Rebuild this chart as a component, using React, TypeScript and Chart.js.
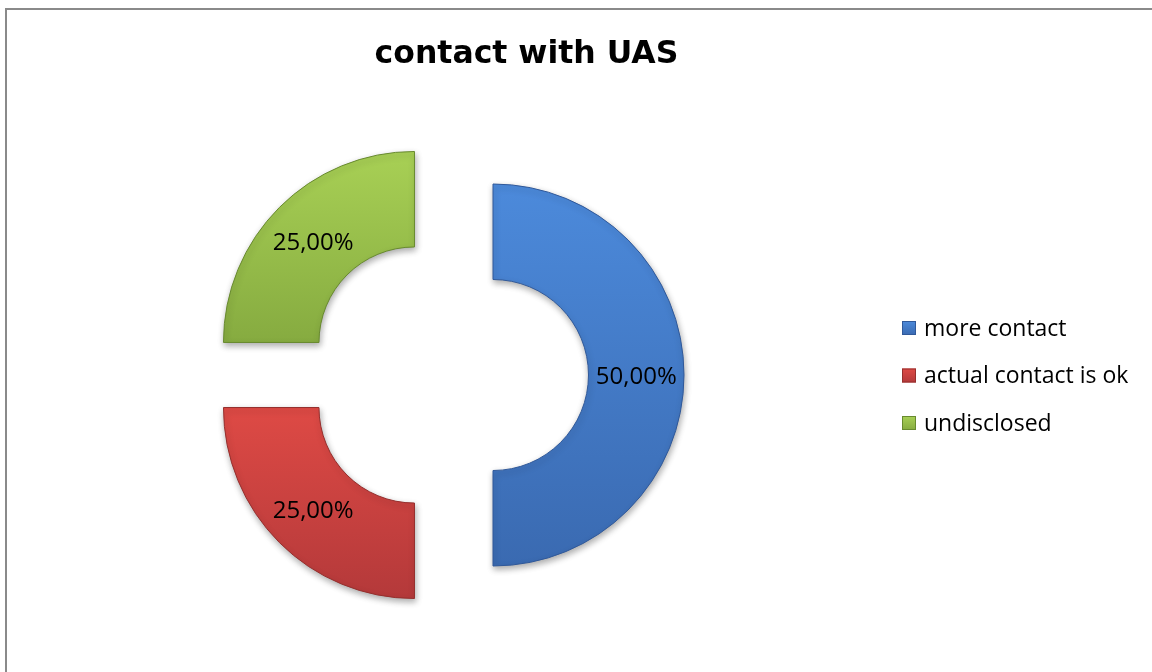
import React, { useEffect, useRef } from 'react';
import { Chart, registerables } from 'chart.js';

Chart.register(...registerables);

const titleText = 'contact with UAS';
const categories = ['more contact', 'actual contact is ok', 'undisclosed'];
const values = [50, 25, 25];
const topColors = ['#4C8ADB', '#DE4A45', '#A8D055'];
const bottomColors = ['#3A6AB1', '#B4393A', '#86AB40'];
const edgeColors = ['#30599A', '#952F2D', '#688A2F'];

const EXPLODE = 46;
const OUTER = 191;
const LABEL_FONT = '24px "Open Sans"';
const LEGEND_FONT = '23px "Open Sans"';

function sliceAngles(i: number): [number, number] {
  const total = values.reduce((a, b) => a + b, 0);
  let before = 0;
  for (let k = 0; k < i; k++) before += values[k];
  const a0 = -Math.PI / 2 + (2 * Math.PI * before) / total;
  const a1 = a0 + (2 * Math.PI * values[i]) / total;
  return [a0, a1];
}

function sliceExtent(i: number, cx: number, cy: number): [number, number] {
  const [a0, a1] = sliceAngles(i);
  const mid = (a0 + a1) / 2;
  const sy = cy + Math.sin(mid) * EXPLODE;
  let ymin = Infinity;
  let ymax = -Infinity;
  for (let k = 0; k <= 48; k++) {
    const a = a0 + ((a1 - a0) * k) / 48;
    for (const r of [OUTER, OUTER * 0.5]) {
      const y = sy + Math.sin(a) * r;
      ymin = Math.min(ymin, y);
      ymax = Math.max(ymax, y);
    }
  }
  return [ymin, ymax];
}

const explodePlugin = {
  id: 'explode',
  afterDatasetsUpdate(chart: any) {
    chart.getDatasetMeta(0).data.forEach((arc: any) => {
      const mid = (arc.startAngle + arc.endAngle) / 2;
      arc.x += Math.cos(mid) * EXPLODE;
      arc.y += Math.sin(mid) * EXPLODE;
    });
  },
  beforeDraw(chart: any) {
    const c = chart.ctx;
    c.save();
    c.fillStyle = '#ffffff';
    c.fillRect(0, 0, chart.width, chart.height);
    c.fillStyle = '#8a8a8a';
    c.fillRect(5, 8, 2, chart.height);
    c.fillRect(5, 8, chart.width, 2);
    c.restore();
  },
  beforeDatasetsDraw(chart: any) {
    const c = chart.ctx;
    c.save();
    c.shadowColor = 'rgba(0,0,0,0.32)';
    c.shadowBlur = 6;
    c.shadowOffsetX = 1;
    c.shadowOffsetY = 3;
  },
  afterDatasetsDraw(chart: any) {
    const c = chart.ctx;
    c.restore();
    const total = values.reduce((a, b) => a + b, 0);
    c.save();
    c.font = LABEL_FONT;
    c.fillStyle = '#000000';
    c.textAlign = 'center';
    c.textBaseline = 'middle';
    chart.getDatasetMeta(0).data.forEach((arc: any, i: number) => {
      const p = arc.tooltipPosition();
      const txt = ((values[i] / total) * 100).toFixed(2).replace('.', ',') + '%';
      c.fillText(txt, p.x, p.y + 2);
    });
    c.restore();
  },
  afterDraw(chart: any) {
    const c = chart.ctx;
    c.save();
    // title
    c.font = 'bold 31.5px "DejaVu Sans"';
    c.fillStyle = '#000000';
    c.textAlign = 'center';
    c.textBaseline = 'alphabetic';
    c.fillText(titleText, 526.5, 63);
    // legend
    const rows = [328, 375.5, 423];
    c.font = LEGEND_FONT;
    c.textAlign = 'left';
    c.textBaseline = 'middle';
    categories.forEach((name, i) => {
      const y = rows[i];
      const g = c.createLinearGradient(0, y - 7, 0, y + 7);
      g.addColorStop(0, topColors[i]);
      g.addColorStop(1, bottomColors[i]);
      c.fillStyle = g;
      c.fillRect(902, y - 7, 14, 14);
      c.strokeStyle = edgeColors[i];
      c.lineWidth = 1;
      c.strokeRect(902.5, y - 6.5, 13, 13);
      c.fillStyle = '#000000';
      c.fillText(name, 924, y + 1);
    });
    c.restore();
  },
};

export default function App() {
  const ref = useRef<HTMLCanvasElement | null>(null);
  useEffect(() => {
    if (!ref.current) return;
    const chart = new Chart(ref.current, {
      type: 'doughnut',
      data: {
        labels: categories,
        datasets: [
          {
            data: values,
            backgroundColor: (ctx: any) => {
              const i = ctx.dataIndex ?? 0;
              const chartObj = ctx.chart;
              const area = chartObj.chartArea;
              if (!area) return topColors[i];
              const cx = (area.left + area.right) / 2;
              const cy = (area.top + area.bottom) / 2;
              const [y0, y1] = sliceExtent(i, cx, cy);
              const g = chartObj.ctx.createLinearGradient(0, y0, 0, y1);
              g.addColorStop(0, topColors[i]);
              g.addColorStop(1, bottomColors[i]);
              return g;
            },
            borderColor: edgeColors,
            borderWidth: 1,
          },
        ],
      },
      options: {
        responsive: false,
        animation: false,
        events: [],
        radius: OUTER,
        cutout: '50%',
        layout: { padding: { left: 0, right: 258, top: 78, bottom: 0 } },
        plugins: {
          legend: { display: false },
          tooltip: { enabled: false },
          title: { display: false },
        },
      } as any,
      plugins: [explodePlugin],
    });
    return () => chart.destroy();
  }, []);
  return (
    <div style={{ position: 'fixed', left: 0, top: 0, width: 1152, height: 672, background: '#fff' }}>
      <canvas ref={ref} width={1152} height={672} style={{ display: 'block' }} />
    </div>
  );
}
